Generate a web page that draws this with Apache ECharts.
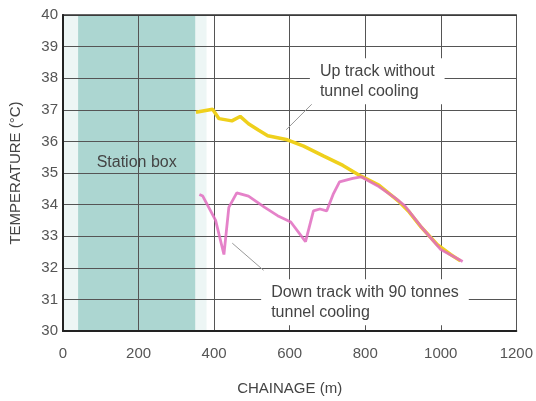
<!DOCTYPE html>
<html>
<head>
<meta charset="utf-8">
<script src="https://cdn.jsdelivr.net/npm/echarts@6/dist/echarts.min.js"></script>
<style>html,body{margin:0;padding:0;background:#fff}#c{width:536px;height:401px}</style>
</head>
<body>
<div id="c"></div>
<script>
// Data
const chainageUp = [352, 396, 413, 447, 469, 491, 517, 542, 594, 637, 689, 741, 789, 836, 888, 914, 948, 991, 1026, 1052];
const tempUp     = [36.92, 37.02, 36.72, 36.65, 36.79, 36.56, 36.36, 36.18, 36.05, 35.85, 35.54, 35.24, 34.90, 34.62, 34.11, 33.80, 33.29, 32.73, 32.42, 32.22];
const chainageDown = [361, 370, 404, 426, 439, 460, 491, 534, 568, 603, 642, 663, 680, 698, 715, 732, 767, 789, 836, 879, 905, 948, 1000, 1058];
const tempDown     = [34.32, 34.27, 33.50, 32.42, 33.91, 34.37, 34.27, 33.91, 33.65, 33.45, 32.83, 33.80, 33.86, 33.80, 34.32, 34.72, 34.83, 34.88, 34.57, 34.21, 33.96, 33.30, 32.58, 32.20];
const stationBox = [40, 350];
const stationHalo = [0, 380];
const stationLabel = 'Station box';
const stationLabelAt = [195, 35.33];
const upLabel = ['Up track without', 'tunnel cooling'];
const downLabel = ['Down track with 90 tonnes', 'tunnel cooling'];
const upLabelAt = [680, 37.9];
const downLabelAt = [551, 30.91];
const upLeader = [[668, 37.29], [591, 36.37]];
const downLeader = [[448, 32.78], [531, 31.92]];
const xTicks = [0, 200, 400, 600, 800, 1000, 1200];
const yTicks = [30, 31, 32, 33, 34, 35, 36, 37, 38, 39, 40];

const FONT = '"Liberation Sans", Arial, Helvetica, sans-serif';
const chart = echarts.init(document.getElementById('c'), null, {renderer: 'canvas'});
const zip = (a, b) => a.map((v, i) => [v, b[i]]);
const xMin = xTicks[0], xMax = xTicks[xTicks.length - 1];
const yMin = yTicks[0], yMax = yTicks[yTicks.length - 1];
const gridLine = {show: true, lineStyle: {color: '#555', width: 1}};

chart.setOption({
  animation: false,
  backgroundColor: '#fff',
  grid: {left: 57, right: 16, top: 15, bottom: 60, show: false},
  xAxis: [{
    type: 'value', min: xMin, max: xMax, interval: 200, z: 1,
    name: 'CHAINAGE (m)', nameLocation: 'middle', nameGap: 50,
    nameTextStyle: {fontFamily: FONT, fontSize: 15, color: '#444'},
    axisLine: {show: false},
    axisTick: {show: false},
    axisLabel: {fontFamily: FONT, fontSize: 15, color: '#555', margin: 15, formatter: v => String(v)},
    splitLine: {show: false}
  }, {
    // overlay for grid lines drawn above the station box
    type: 'value', min: xMin, max: xMax, interval: 200, z: 3, position: 'top',
    axisLine: {show: true, lineStyle: {color: '#333', width: 1.5}},
    axisTick: {show: false}, axisLabel: {show: false},
    splitLine: gridLine
  }, {
    type: 'value', min: xMin, max: xMax, interval: 200, z: 6, position: 'bottom', offset: 0,
    axisLine: {show: true, onZero: false, lineStyle: {color: '#222', width: 2}},
    axisTick: {show: false}, axisLabel: {show: false}, splitLine: {show: false}
  }],
  yAxis: [{
    type: 'value', min: yMin, max: yMax, interval: 1, z: 1,
    name: 'TEMPERATURE (\u00B0C)', nameLocation: 'middle', nameGap: 40, nameRotate: 90,
    nameTextStyle: {fontFamily: FONT, fontSize: 15, color: '#444'},
    axisLine: {show: false},
    axisTick: {show: false},
    axisLabel: {fontFamily: FONT, fontSize: 15, color: '#555', margin: 5},
    splitLine: {show: false}
  }, {
    type: 'value', min: yMin, max: yMax, interval: 1, z: 3, position: 'right',
    axisLine: {show: true, lineStyle: {color: '#333', width: 1.5}},
    axisTick: {show: false}, axisLabel: {show: false},
    splitLine: gridLine
  }, {
    type: 'value', min: yMin, max: yMax, interval: 1, z: 6, position: 'left', offset: 0,
    axisLine: {show: true, onZero: false, lineStyle: {color: '#222', width: 2}},
    axisTick: {show: false}, axisLabel: {show: false}, splitLine: {show: false}
  }],
  series: [
    {
      type: 'line', data: [], z: 1,
      markArea: {
        silent: true,
        itemStyle: {color: '#edf6f5'},
        data: [[{xAxis: stationHalo[0]}, {xAxis: stationHalo[1]}]]
      }
    },
    {
      type: 'line', data: [], z: 2,
      markArea: {
        silent: true,
        itemStyle: {color: '#acd6d1'},
        data: [[{xAxis: stationBox[0]}, {xAxis: stationBox[1]}]]
      },
      markPoint: {
        silent: true, symbol: 'circle', symbolSize: 0,
        label: {show: true, position: 'inside', formatter: stationLabel, fontFamily: FONT, fontSize: 16, color: '#444'},
        data: [{coord: stationLabelAt}]
      }
    },
    {
      name: 'Up track', type: 'line', data: zip(chainageUp, tempUp), showSymbol: false, symbol: 'none',
      lineStyle: {color: '#efd01c', width: 3.5}, z: 4,
      markLine: {
        silent: true, symbol: 'none', label: {show: false},
        lineStyle: {color: '#999', width: 1, type: 'solid'},
        data: [[{coord: upLeader[0]}, {coord: upLeader[1]}]]
      }
    },
    {
      name: 'Down track', type: 'line', data: zip(chainageDown, tempDown), showSymbol: false, symbol: 'none',
      lineStyle: {color: '#e06cc0', width: 2.8, opacity: 0.85}, z: 5,
      markLine: {
        silent: true, symbol: 'none', label: {show: false},
        lineStyle: {color: '#999', width: 1, type: 'solid'},
        data: [[{coord: downLeader[0]}, {coord: downLeader[1]}]]
      }
    }
  ]
});

function placeLabels() {
  const up = chart.convertToPixel({gridIndex: 0}, upLabelAt);
  const dn = chart.convertToPixel({gridIndex: 0}, downLabelAt);
  const style = {fontFamily: FONT, fontSize: 16, fill: '#444', lineHeight: 20,
    backgroundColor: '#fff', padding: [3, 10, 3, 10], verticalAlign: 'middle', align: 'left'};
  chart.setOption({
    graphic: [
      {type: 'text', x: up[0] - 10, y: up[1], z: 10, silent: true, style: Object.assign({text: upLabel.join('\n')}, style)},
      {type: 'text', x: dn[0] - 10, y: dn[1], z: 10, silent: true, style: Object.assign({text: downLabel.join('\n')}, style)}
    ]
  });
}
placeLabels();
</script>
</body>
</html>
